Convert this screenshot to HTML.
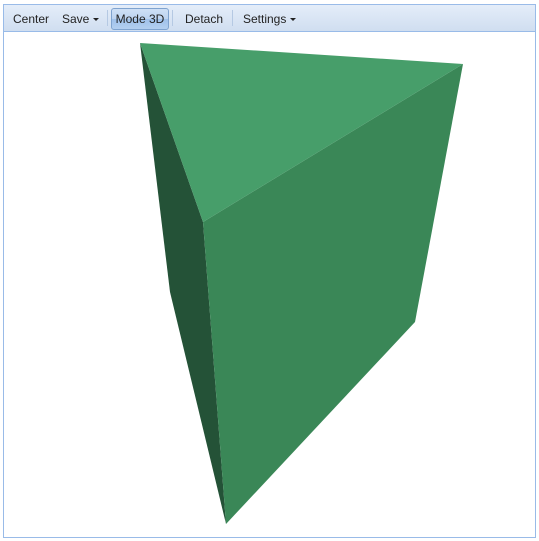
<!DOCTYPE html>
<html><head><style>
body{margin:0;width:539px;height:541px;background:#fff;font-family:"Liberation Sans",sans-serif;position:relative;overflow:hidden}
#frame{position:absolute;left:3px;top:4px;width:531px;height:532px;border:1px solid #99bbe8}
#tb{position:absolute;left:0;top:0;width:531px;height:26px;background:linear-gradient(#e4edf9,#d0def0);border-bottom:1px solid #99bbe8;font-size:12px;color:#222}
.b{position:absolute;top:3px;height:20px;line-height:20px;padding:0 6px;border-radius:3px;border:1px solid transparent}
.sep{position:absolute;top:5px;width:1px;height:16px;background:#b5c9e3}
.arr{display:inline-block;width:0;height:0;border-left:3px solid transparent;border-right:3px solid transparent;border-top:3px solid #222;margin-left:4px;vertical-align:middle}
</style></head><body>
<div id="frame">
<div id="tb">
<div class="b" style="left:2px">Center</div>
<div class="b" style="left:51px">Save<span class="arr"></span></div>
<div class="sep" style="left:103px"></div>
<div class="b" style="left:107px;width:56px;padding:0;text-align:center;background:linear-gradient(#cfe0f5 0%,#bcd3f0 50%,#9fc1ea 51%,#b3cff0 100%);border-color:#7fa3cf">Mode 3D</div>
<div class="sep" style="left:168px"></div>
<div class="b" style="left:174px">Detach</div>
<div class="sep" style="left:228px"></div>
<div class="b" style="left:232px">Settings<span class="arr"></span></div>
</div>
</div>
<svg style="position:absolute;left:0;top:0" width="539" height="541">
<polygon points="140,43 203,222 226,524 170,292" fill="#245237"/>
<polygon points="203,222 463,64 415,322 226,524" fill="#3a8757"/>
<polygon points="140,43 463,64 203,222" fill="#479e6a"/>
</svg>
</body></html>
